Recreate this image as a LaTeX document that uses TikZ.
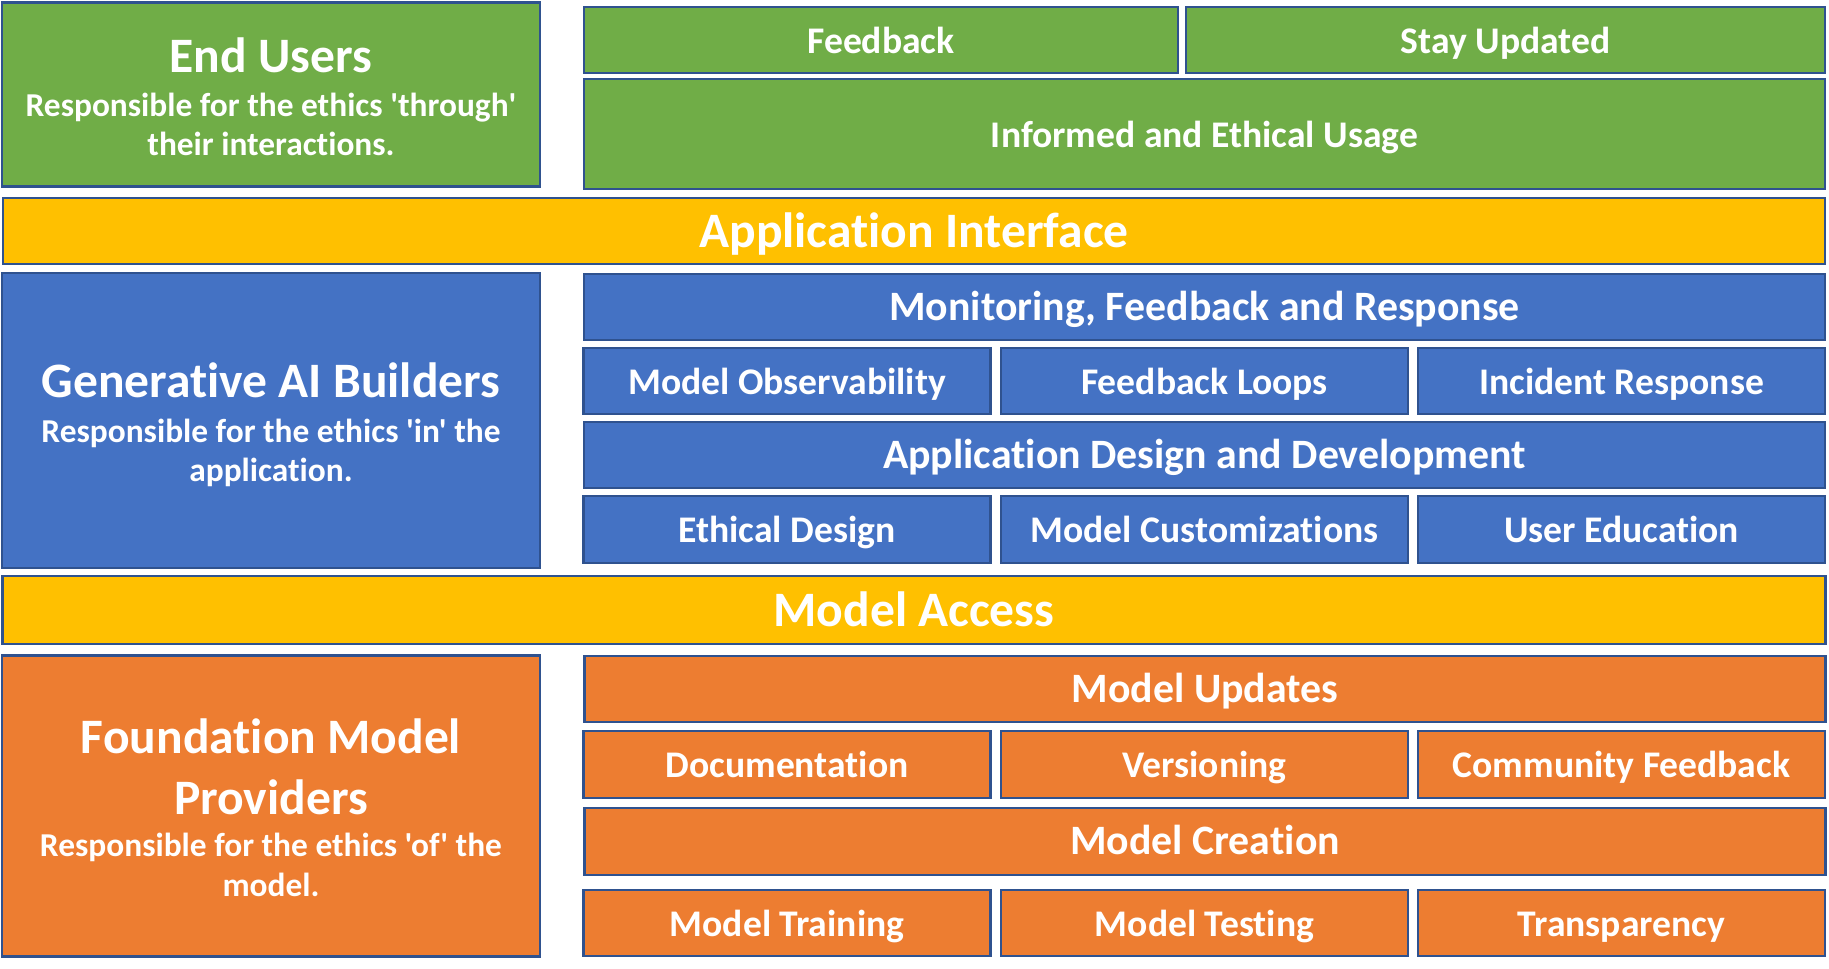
\documentclass[tikz,border=0pt]{standalone}
\usepackage{fontspec}
\setmainfont{Carlito}[Ligatures={TeXOff,NoCommon}]
\definecolor{edge}{HTML}{2F528F}
\definecolor{cgreen}{HTML}{70AD47}
\definecolor{cyellow}{HTML}{FFC000}
\definecolor{cblue}{HTML}{4472C4}
\definecolor{corange}{HTML}{ED7D31}
\begin{document}
\begin{tikzpicture}[x=0.1mm,y=-0.1mm,
  tile/.style={draw=edge, line width=0.6pt, text=white, inner sep=0pt,
    text height=0.76em, text depth=0pt, align=center},
  usertile/.style={tile, fill=cgreen},
  bartile/.style={tile, fill=cyellow, text height=0.93em},
  buildtile/.style={tile, fill=cblue},
  provtile/.style={tile, fill=corange},
  fbig/.style={font=\fontsize{14.1}{17}\selectfont\bfseries},
  fmid/.style={font=\fontsize{11.9}{14}\selectfont\bfseries},
  fsmall/.style={font=\fontsize{10.7}{13}\selectfont\bfseries},
  roletitle/.style={text=white, inner sep=0pt, anchor=base, fbig},
  rolenote/.style={text=white, inner sep=0pt, anchor=base,
    font=\fontsize{9.5}{11}\selectfont\bfseries},
  wide/.style={minimum width=124.1mm},
  third/.style={minimum width=40.7mm},
  row/.style={minimum height=6.65mm}]
\useasboundingbox (0,0) rectangle (1829,968);

% ---- End users layer ----
\node[usertile, minimum width=53.8mm, minimum height=18.4mm] (endusers) at (271,94.5) {};
\node[roletitle] (eutitle) at (271,72) {End Users};
\node[rolenote] (eunote1) at (271,116.6) {Responsible for the ethics 'through'};
\node[rolenote] (eunote2) at (271,155) {their interactions.};
\node[usertile, fsmall, minimum width=59.4mm, row] (feedback) at (881,40) {Feedback};
\node[usertile, fsmall, minimum width=63.9mm, row] (stay) at (1505.5,40) {Stay Updated};
\node[usertile, fsmall, wide, minimum height=11mm] (informed) at (1204.5,134) {Informed and Ethical Usage};

% ---- Application interface ----
\node[bartile, fbig, minimum width=182.2mm, minimum height=6.6mm] (appif) at (914,231) {Application Interface};

% ---- Generative AI builders layer ----
\node[buildtile, minimum width=53.8mm, minimum height=29.5mm] (builders) at (271,420.5) {};
\node[roletitle] (gbtitle) at (271,397.5) {Generative AI Builders};
\node[rolenote] (gbnote1) at (271,442) {Responsible for the ethics 'in' the};
\node[rolenote] (gbnote2) at (271,481) {application.};
\node[buildtile, fmid, wide, row] (monitor) at (1204.5,307) {Monitoring, Feedback and Response};
\node[buildtile, fsmall, third, row] (observ) at (787,381) {Model Observability};
\node[buildtile, fsmall, third, row] (loops) at (1204.5,381) {Feedback Loops};
\node[buildtile, fsmall, third, row] (incident) at (1621.5,381) {Incident Response};
\node[buildtile, fmid, wide, row] (appdesign) at (1204.5,455) {Application Design and Development};
\node[buildtile, fsmall, third, row] (ethdesign) at (787,529.5) {Ethical Design};
\node[buildtile, fsmall, third, row] (custom) at (1204.5,529.5) {Model Customizations};
\node[buildtile, fsmall, third, row] (education) at (1621.5,529.5) {User Education};

% ---- Model access ----
\node[bartile, fbig, minimum width=182.3mm, minimum height=6.8mm] (access) at (914,610) {Model Access};

% ---- Foundation model providers layer ----
\node[provtile, minimum width=53.8mm, minimum height=30.1mm] (providers) at (271,806) {};
\node[roletitle] (fmtitle1) at (271,753.5) {Foundation Model};
\node[roletitle] (fmtitle2) at (271,814) {Providers};
\node[rolenote] (fmnote1) at (271,856) {Responsible for the ethics 'of' the};
\node[rolenote] (fmnote2) at (271,896) {model.};
\node[provtile, fmid, wide, row] (updates) at (1205,689) {Model Updates};
\node[provtile, fsmall, third, row] (docs) at (787,764.5) {Documentation};
\node[provtile, fsmall, third, row] (version) at (1204.5,764.5) {Versioning};
\node[provtile, fsmall, third, row] (community) at (1621.5,764.5) {Community Feedback};
\node[provtile, fmid, wide, row] (creation) at (1205,841.5) {Model Creation};
\node[provtile, fsmall, third, row] (training) at (787,923) {Model Training};
\node[provtile, fsmall, third, row] (testing) at (1204.5,923) {Model Testing};
\node[provtile, fsmall, third, row] (transp) at (1621.5,923) {Transparency};
\end{tikzpicture}
\end{document}
